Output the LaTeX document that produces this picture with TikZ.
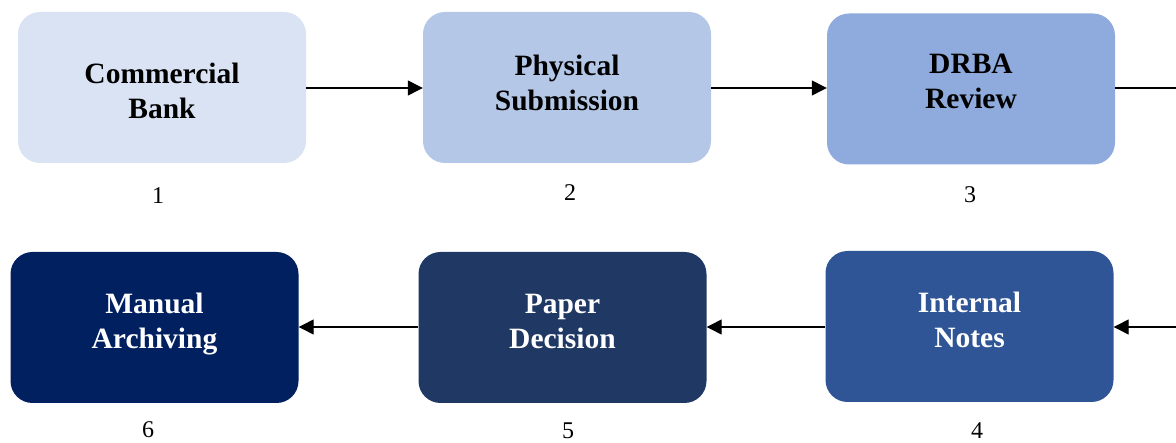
\documentclass[tikz,border=0pt]{standalone}
\usepackage{fontspec}
\setmainfont{Liberation Serif}
\usetikzlibrary{arrows.meta}
\definecolor{c1}{HTML}{DAE3F3}
\definecolor{c2}{HTML}{B4C7E7}
\definecolor{c3}{HTML}{8FAADC}
\definecolor{c4}{HTML}{2F5597}
\definecolor{c5}{HTML}{203864}
\definecolor{c6}{HTML}{002060}
\tikzset{
  stepbox/.style={rectangle, rounded corners=22pt, minimum width=288pt, minimum height=151pt, inner sep=0pt},
  boxtext/.style={align=center, inner sep=0pt, font=\fontsize{29.5}{35}\selectfont\bfseries},
  numlabel/.style={font=\fontsize{24}{28}\selectfont, inner sep=0pt},
  flow/.style={line width=1.3pt, -{Triangle[length=15pt,width=15pt]}},
  plainline/.style={line width=1.3pt}
}
\begin{document}
\begin{tikzpicture}[x=1pt,y=-1pt]
\useasboundingbox (0,0) rectangle (1176,443);
\node[stepbox, fill=c1] (b1) at (162,87.5) {};
\node[stepbox, fill=c2] (b2) at (567,87.5) {};
\node[stepbox, fill=c3] (b3) at (971,89) {};
\node[stepbox, fill=c4] (b4) at (969.5,326.5) {};
\node[stepbox, fill=c5] (b5) at (562.5,327.5) {};
\node[stepbox, fill=c6] (b6) at (154.5,327.5) {};
\node[boxtext, text=black] (t1) at ([yshift=-3pt]b1.center) {Commercial\\Bank};
\node[boxtext, text=black] (t2) at ([yshift=5pt]b2.center) {Physical\\Submission};
\node[boxtext, text=black] (t3) at ([yshift=8pt]b3.center) {DRBA\\Review};
\node[boxtext, text=white] (t4) at ([yshift=6.5pt]b4.center) {Internal\\Notes};
\node[boxtext, text=white] (t5) at ([yshift=6.5pt]b5.center) {Paper\\Decision};
\node[boxtext, text=white] (t6) at ([yshift=3pt]b6.center) {Manual\\Archiving};
\node[numlabel] (n1) at (158,196) {1};
\node[numlabel] (n2) at (570,193) {2};
\node[numlabel] (n3) at (970,195) {3};
\node[numlabel] (n4) at (977,431) {4};
\node[numlabel] (n5) at (568,431) {5};
\node[numlabel] (n6) at (148,430) {6};
\coordinate (outR) at (1176,88);
\coordinate (inR) at (1176,327);
\draw[flow] (b1.east |- 0,88) -- (b2.west |- 0,88);
\draw[flow] (b2.east |- 0,88) -- (b3.west |- 0,88);
\draw[plainline] (b3.east |- outR) -- (outR);
\draw[flow] (inR) -- (b4.east |- inR);
\draw[flow] (b4.west |- 0,327) -- (b5.east |- 0,327);
\draw[flow] (b5.west |- 0,327) -- (b6.east |- 0,327);
\end{tikzpicture}
\end{document}
